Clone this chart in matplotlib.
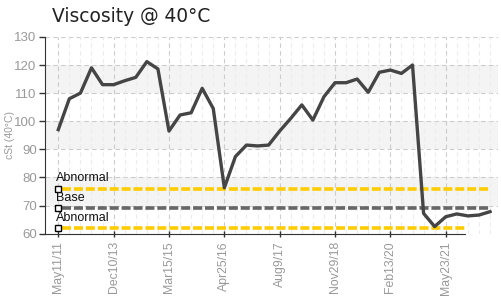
import matplotlib
matplotlib.use("Agg")
import matplotlib.pyplot as plt
import numpy as np

values = [97, 108, 110, 119, 113, 113, 114.4, 115.6, 121.2, 118.6,
          96.5, 102.2, 103, 111.7, 104.5, 76.3, 87.4, 91.5, 91.2, 91.5,
          96.5, 101, 105.8, 100.4, 108.7, 113.7, 113.7, 115, 110.3, 117.4,
          118.2, 117, 120, 67.2, 62.5, 66, 67, 66.3, 66.6, 67.8]
tick_labels = ["May11/11", "Dec10/13", "Mar15/15", "Apr25/16",
               "Aug9/17", "Nov29/18", "Feb13/20", "May23/21"]
tick_step = 5
ref_names = ["Abnormal", "Base", "Abnormal"]
ref_values = [76, 69, 62]
ref_colors = ["#FFCC00", "#666666", "#FFCC00"]

narrow = ["Liberation Sans", "DejaVu Sans"]

fig = plt.figure(figsize=(5.01, 3.02), dpi=100)
ax = fig.add_axes([45/501, 1-233.6/302, 453/501, (233.6-36.9)/302])

n = len(values)
x = np.arange(n)
xmin, xmax = -1.2, (n - 1) + 8/11.07
ax.set_xlim(xmin, xmax)
ax.set_ylim(60, 130)

# background bands
for lo in (70, 90, 110):
    ax.axhspan(lo, lo + 10, color="#f4f4f4", zorder=0, lw=0)

# grid
for yv in range(70, 131, 10):
    ax.axhline(yv, color="#cccccc", lw=0.8, ls=(0, (4, 3)), zorder=1)
for i in range(n):
    if i % tick_step == 0:
        ax.axvline(i, color="#cccccc", lw=0.8, ls=(0, (4, 3)), zorder=1)
    else:
        ax.axvline(i, color="#ececec", lw=0.8, ls=(0, (4, 3)), zorder=1)

# reference lines
right_ends = [n - 1, n - 1, 36.74]
for name, val, col, xe in zip(ref_names, ref_values, ref_colors, right_ends):
    ax.plot([0.3, xe], [val, val], color=col, lw=2.6, ls=(0, (2.5, 0.8)),
            zorder=3, solid_capstyle="butt")
    ax.plot([0], [val], marker="s", ms=4.5, mfc="white", mec="black",
            mew=1.0, zorder=5, clip_on=False)
    ax.annotate(name, (0, val), xytext=(-1.5, 3), textcoords="offset points",
                fontsize=9, family=narrow, color="#111111", ha="left",
                va="bottom", zorder=6)

# main series
ax.plot(x, values, color="#454545", lw=2.4, zorder=4)

# axes styling
for s in ("top", "right"):
    ax.spines[s].set_visible(False)
ax.spines["left"].set_color("#333333")
ax.spines["bottom"].set_color("#333333")
ax.spines["bottom"].set_bounds(xmin, 36.74)

ax.set_yticks(range(60, 131, 10))
ax.set_xticks(np.arange(0, n, tick_step)[:len(tick_labels)])
ax.set_xticklabels(tick_labels, rotation=90, fontsize=8.8, family=narrow,
                   color="#999999")
for lab in ax.get_yticklabels():
    lab.set_fontsize(9.5)
    lab.set_family(narrow)
    lab.set_color("#999999")
ax.tick_params(axis="y", direction="out", length=4, width=1, color="#333333", pad=2)
ax.tick_params(axis="x", direction="inout", length=5, width=1, color="#333333", pad=3)

ax.set_ylabel("cSt (40°C)", fontsize=7.5, family=narrow, color="#999999")
ax.yaxis.set_label_coords(-0.066, 0.5)

fig.text(52/501, 1-16/302, "Viscosity @ 40°C", fontsize=13.4, color="#222222",
         ha="left", va="center", family="DejaVu Sans")

fig.savefig("out.png", dpi=100)
